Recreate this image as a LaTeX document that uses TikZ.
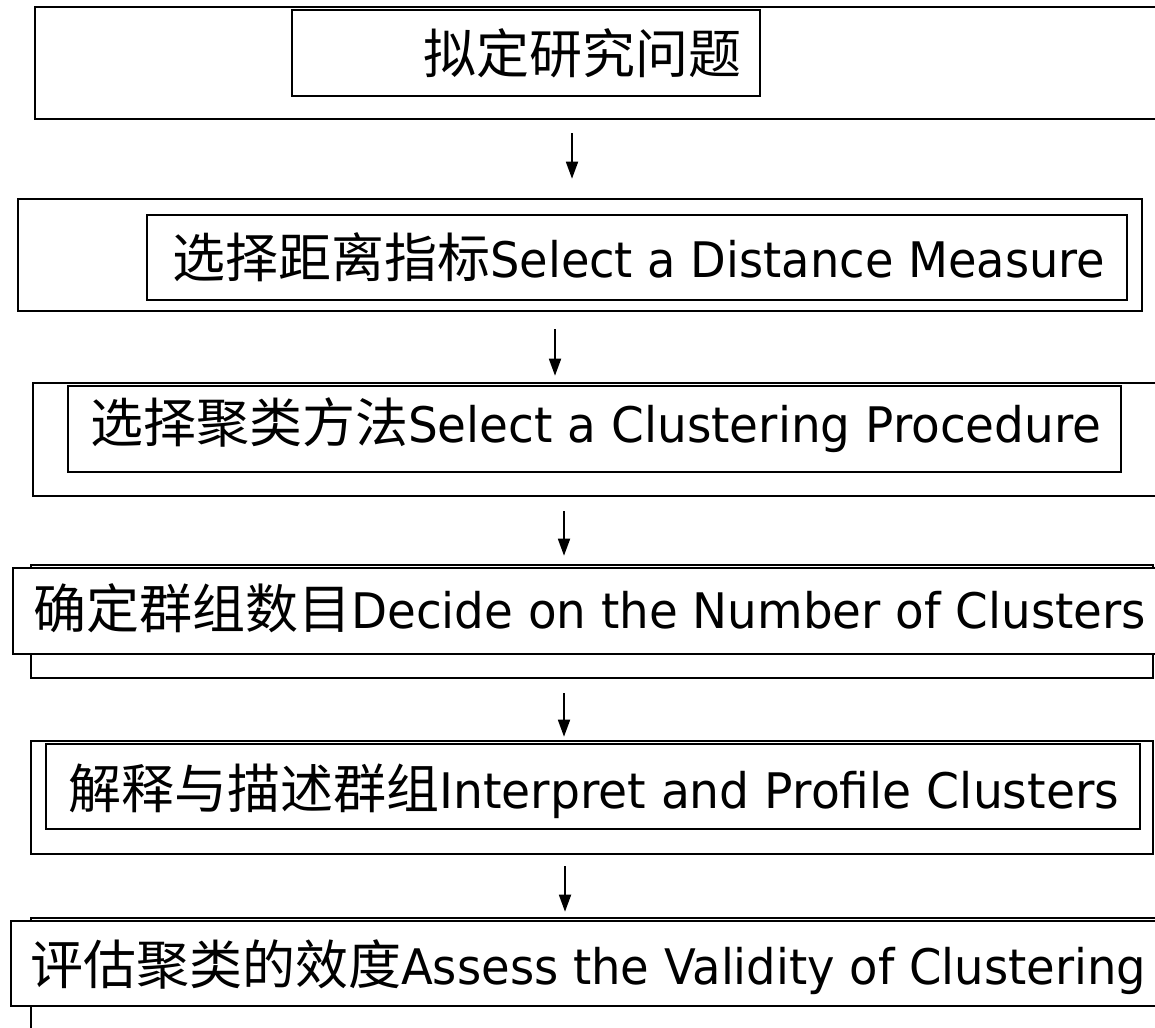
\documentclass[tikz,border=0pt]{standalone}
\usepackage{fontspec}
\setmainfont{DejaVu Sans}
\newfontfamily\cjkf{Noto Sans CJK SC}
\usetikzlibrary{fit,arrows.meta}
\newcommand\cnpart[1]{{\cjkf\fontsize{53}{60}\selectfont #1}}
\newcommand\steplbl[3]{\cnpart{#1}\resizebox{#3}{\height}{\fontsize{49}{56}\selectfont #2}}
\begin{document}
\begin{tikzpicture}[x=1pt,y=-1pt,
  boxline/.style={draw=black, line width=2.6pt, fill=white, inner sep=0pt},
  lbl/.style={anchor=base west, inner sep=0pt},
  arr/.style={line width=1.8pt, -{Triangle[length=17pt,width=12pt]}}]
\useasboundingbox (0,0) rectangle (1155,1027);
\clip (0,0) rectangle (1155,1027);
\fill[white] (0,0) rectangle (1155,1027);
% step 1
\node[boxline, fit={(35,7) (1180,119)}] (o1) {};
\node[boxline, fit={(292,10) (760,96)}] (i1) {};
\node[lbl] (t1) at (423,74) {\cnpart{拟定研究问题}};
% step 2
\node[boxline, fit={(18,199) (1142,311)}] (o2) {};
\node[boxline, fit={(147,215) (1127,300)}] (i2) {};
\node[lbl] (t2) at (172,277) {\steplbl{选择距离指标}{Select a Distance Measure}{615pt}};
% step 3
\node[boxline, fit={(33,383) (1180,496)}] (o3) {};
\node[boxline, fit={(68,386) (1121,472)}] (i3) {};
\node[lbl] (t3) at (90,442) {\steplbl{选择聚类方法}{Select a Clustering Procedure}{693pt}};
% step 4
\node[boxline, fit={(31,565) (1153,678)}] (o4) {};
\node[boxline, fit={(13,568) (1180,654)}] (i4) {};
\node[lbl] (t4) at (33,628) {\steplbl{确定群组数目}{Decide on the Number of Clusters}{795pt}};
% step 5
\node[boxline, fit={(31,741) (1153,854)}] (o5) {};
\node[boxline, fit={(46,744) (1140,829)}] (i5) {};
\node[lbl] (t5) at (68,808) {\steplbl{解释与描述群组}{Interpret and Profile Clusters}{680pt}};
% step 6
\node[boxline, fit={(31,918) (1180,1045)}] (o6) {};
\node[boxline, fit={(11,921) (1180,1006)}] (i6) {};
\node[lbl] (t6) at (30,984) {\steplbl{评估聚类的效度}{Assess the Validity of Clustering}{745pt}};
% connectors
\coordinate (c1) at (572,0);
\coordinate (c2) at (555,0);
\coordinate (c3) at (564,0);
\coordinate (c4) at (564,0);
\coordinate (c5) at (565,0);
\draw[arr, shorten <=13pt, shorten >=19pt] (o1.south -| c1) -- (o2.north -| c1);
\draw[arr, shorten <=17pt, shorten >=6pt] (o2.south -| c2) -- (o3.north -| c2);
\draw[arr, shorten <=14pt, shorten >=8pt] (o3.south -| c3) -- (o4.north -| c3);
\draw[arr, shorten <=14pt, shorten >=3pt] (o4.south -| c4) -- (o5.north -| c4);
\draw[arr, shorten <=11pt, shorten >=5pt] (o5.south -| c5) -- (o6.north -| c5);
\end{tikzpicture}
\end{document}
